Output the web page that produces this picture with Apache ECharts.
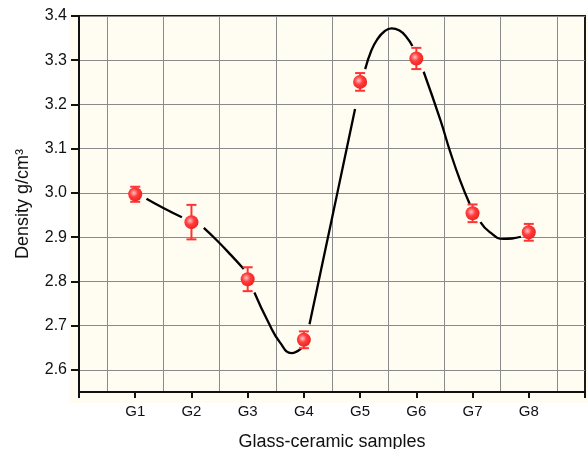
<!DOCTYPE html>
<html>
<head>
<meta charset="utf-8">
<script src="https://cdn.jsdelivr.net/npm/echarts@6/dist/echarts.min.js"></script>
<style>
html, body { margin: 0; padding: 0; background: #fff; }
#chart { width: 588px; height: 449px; }
</style>
</head>
<body>
<div id="chart"></div>
<script>
// samples on the x axis (positions 1..8, axis runs 0..9)
var samples = ['G1', 'G2', 'G3', 'G4', 'G5', 'G6', 'G7', 'G8'];
var samplePos = [1, 2, 3, 4, 5, 6, 7, 8];
// measured density and its error
var density = [2.997, 2.934, 2.805, 2.668, 3.251, 3.304, 2.954, 2.911];
var densityErr = [0.017, 0.039, 0.027, 0.019, 0.02, 0.024, 0.02, 0.019];
var yTicks = [2.6, 2.7, 2.8, 2.9, 3.0, 3.1, 3.2, 3.3, 3.4];

// fitted curve, null = gap at a symbol
var fitX = [1.2, 1.5, 1.83, 2.0,
    2.22, 2.45, 2.7, 2.93, 3.0,
    3.12, 3.37, 3.58, 3.78, 3.95, 4.0,
    4.1, 4.15, 4.3, 4.5, 4.7, 4.91, 5.0,
    5.09, 5.2, 5.3, 5.43, 5.56, 5.7, 5.82, 5.93, 6.0,
    6.13, 6.43, 6.6, 6.78, 6.95, 7.0,
    7.14, 7.3, 7.55, 7.7, 7.86];
var fitY = [2.987, 2.966, 2.945, null,
    2.921, 2.893, 2.86, 2.828, null,
    2.775, 2.707, 2.661, 2.638, 2.648, null,
    2.703, 2.733, 2.823, 2.943, 3.063, 3.19, null,
    3.28, 3.322, 3.346, 3.365, 3.372, 3.367, 3.353, 3.332, null,
    3.274, 3.164, 3.094, 3.028, 2.975, null,
    2.934, 2.912, 2.896, 2.897, 2.901];

var bg = '#fffdf1';
var red = '#ff3434';

var fitData = fitX.map(function (x, i) {
    return [x, fitY[i] === null ? '-' : fitY[i]];
});
var pointData = samplePos.map(function (x, i) {
    return [x, density[i], densityErr[i]];
});

function renderPoint(params, api) {
    var x = api.value(0), y = api.value(1), e = api.value(2);
    var c = api.coord([x, y]);
    var hi = api.coord([x, y + e]);
    var lo = api.coord([x, y - e]);
    var cap = 5;
    var ls = { stroke: red, lineWidth: 2 };
    return {
        type: 'group',
        children: [
            { type: 'line', shape: { x1: c[0], y1: hi[1], x2: c[0], y2: lo[1] }, style: ls },
            { type: 'line', shape: { x1: c[0] - cap, y1: hi[1], x2: c[0] + cap, y2: hi[1] }, style: ls },
            { type: 'line', shape: { x1: c[0] - cap, y1: lo[1], x2: c[0] + cap, y2: lo[1] }, style: ls },
            {
                type: 'circle',
                shape: { cx: c[0], cy: c[1], r: 7 },
                style: {
                    fill: new echarts.graphic.RadialGradient(0.4, 0.4, 0.65, [
                        { offset: 0, color: '#ffc4c4' },
                        { offset: 0.45, color: '#ff3c3c' },
                        { offset: 1, color: '#ee2020' }
                    ])
                }
            }
        ]
    };
}

var chart = echarts.init(document.getElementById('chart'));
chart.setOption({
    animation: false,
    graphic: [{
        type: 'rect', z: -10, silent: true,
        shape: { x: 69, y: 13, width: 519, height: 390 },
        style: { fill: bg }
    }],
    grid: {
        left: 79, right: 3, top: 16, bottom: 57,
        outerBoundsMode: 'none', containLabel: false,
        show: true, backgroundColor: bg,
        borderColor: '#1a1a1a', borderWidth: 2
    },
    xAxis: {
        type: 'value', min: 0, max: 9, interval: 1,
        name: 'Glass-ceramic samples',
        nameLocation: 'middle', nameGap: 41,
        nameTextStyle: { fontFamily: 'Liberation Sans', fontSize: 18, color: '#111' },
        axisLine: { onZero: false, lineStyle: { color: '#111', width: 2 } },
        axisTick: { length: 6, lineStyle: { color: '#111', width: 2 } },
        axisLabel: {
            margin: 12, fontFamily: 'Liberation Sans', fontSize: 15, color: '#111',
            formatter: function (v) { return samples[samplePos.indexOf(v)] || ''; }
        },
        splitLine: { show: false },
        minorTick: { show: false, splitNumber: 2 },
        minorSplitLine: { show: true, lineStyle: { color: '#8a8a8a', width: 1 } }
    },
    yAxis: {
        type: 'value', min: 2.55, max: 3.4,
        name: 'Density g/cm³',
        nameLocation: 'middle', nameGap: 47,
        nameTextStyle: { fontFamily: 'Liberation Sans', fontSize: 18, color: '#111' },
        axisLine: { onZero: false, lineStyle: { color: '#111', width: 2 } },
        axisTick: { length: 8, customValues: yTicks, lineStyle: { color: '#111', width: 2 } },
        axisLabel: {
            margin: 12, customValues: yTicks, fontFamily: 'Liberation Sans', fontSize: 16, color: '#111',
            formatter: function (v) { return v.toFixed(1); }
        },
        splitLine: { show: true, lineStyle: { color: '#8a8a8a', width: 1 } }
    },
    series: [
        {
            type: 'line', data: fitData, smooth: 0.5, showSymbol: false,
            connectNulls: false, z: 2,
            lineStyle: { color: '#000', width: 2.3 }
        },
        {
            type: 'custom', data: pointData, renderItem: renderPoint, z: 3,
            encode: { x: 0, y: 1 }
        }
    ]
});
</script>
</body>
</html>
